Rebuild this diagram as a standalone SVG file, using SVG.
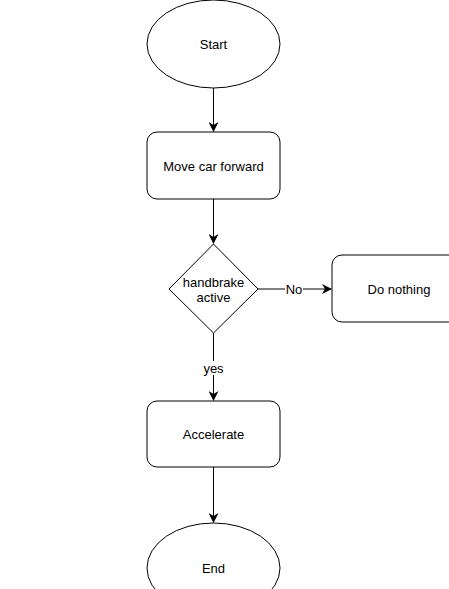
<svg xmlns="http://www.w3.org/2000/svg" width="449" height="589" viewBox="0 0 449 589">
<defs>
<style>
.s{fill:#fff;stroke:#000;stroke-width:1}
.t{font-family:"Liberation Sans",Arial,sans-serif;font-size:13px;fill:#000;text-anchor:middle;dominant-baseline:central}
.e{fill:none;stroke:#000;stroke-width:1}
.lb{fill:#fff}
</style>
<marker id="a" viewBox="0 0 10 10" refX="9" refY="5" markerWidth="10" markerHeight="10" orient="auto" markerUnits="userSpaceOnUse">
<path d="M0,0 L10,5 L0,10 L3,5 Z" fill="#000"/>
</marker>
</defs>
<rect width="449" height="589" fill="#fff"/>
<g id="connectors">
<path class="e" d="M213.5,88 V131" marker-end="url(#a)"/>
<path class="e" d="M213.5,199 V243" marker-end="url(#a)"/>
<path class="e" d="M258,289 H331" marker-end="url(#a)"/>
<path class="e" d="M213.5,333 V400" marker-end="url(#a)"/>
<path class="e" d="M213.5,467 V522" marker-end="url(#a)"/>
<rect class="lb" x="285" y="282" width="18" height="14"/>
<text class="t" x="294" y="289">No</text>
<rect class="lb" x="201" y="361" width="25" height="14"/>
<text class="t" x="213.5" y="368">yes</text>
</g>
<g id="start">
<ellipse class="s" cx="213.5" cy="44" rx="66.5" ry="44"/>
<text class="t" x="213.5" y="44">Start</text>
</g>
<g id="move">
<rect class="s" x="147" y="132" width="133" height="67" rx="10"/>
<text class="t" x="213.5" y="166">Move car forward</text>
</g>
<g id="decision">
<path class="s" d="M213.5,244 L258,289 L213.5,333 L169,289 Z"/>
<text class="t" x="213.5" y="282">handbrake</text>
<text class="t" x="213.5" y="297">active</text>
</g>
<g id="nothing">
<rect class="s" x="332" y="255" width="134" height="67" rx="10"/>
<text class="t" x="399" y="289">Do nothing</text>
</g>
<g id="accelerate">
<rect class="s" x="147" y="401" width="133" height="66" rx="10"/>
<text class="t" x="213.5" y="434">Accelerate</text>
</g>
<g id="end">
<ellipse class="s" cx="213.5" cy="568" rx="66.5" ry="45"/>
<text class="t" x="213.5" y="568">End</text>
</g>
</svg>
